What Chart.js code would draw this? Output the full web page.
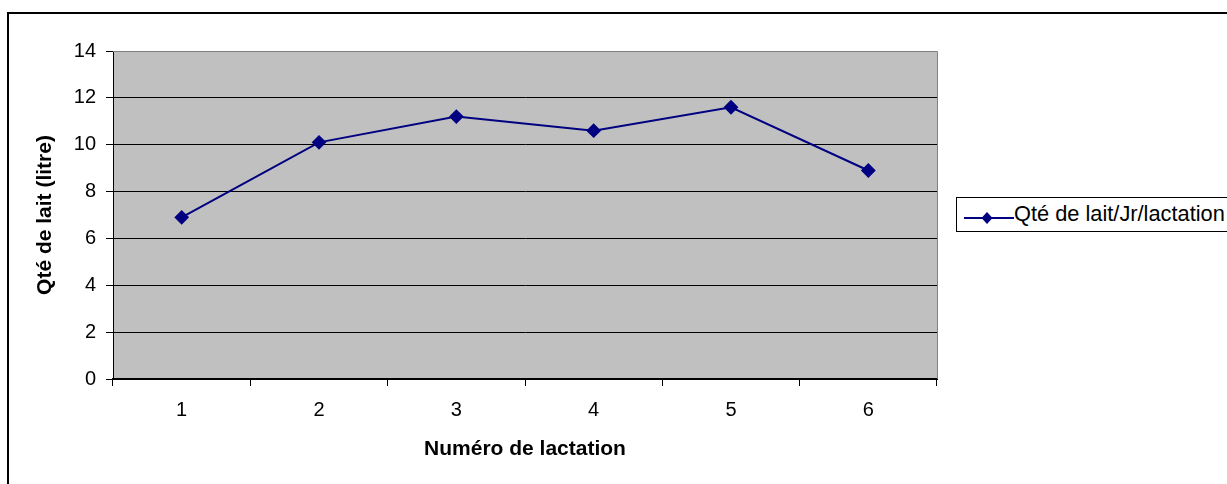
<!DOCTYPE html>
<html>
<head>
<meta charset="utf-8">
<script src="https://cdn.jsdelivr.net/npm/chart.js@4/dist/chart.umd.min.js"></script>
<style>
  html, body { margin: 0; padding: 0; background: #fff; }
  #wrap { position: relative; width: 1227px; height: 484px; overflow: hidden; }
  #c { position: absolute; left: 0; top: 0; }
  #legend {
    position: absolute; left: 956px; top: 197px; width: 300px; height: 35px;
    border: 1px solid #000; background: #fff; box-sizing: border-box;
    font-family: "Liberation Sans", Arial, sans-serif; font-size: 21.8px; color: #000;
    white-space: nowrap;
  }
  #legend svg { position: absolute; left: 7px; top: 12px; }
  #legend span { position: absolute; left: 57px; top: 3px; line-height: 26px; }
</style>
</head>
<body>
<div id="wrap">
  <canvas id="c" width="1227" height="484"></canvas>
  <div id="legend">
    <svg width="50" height="16" viewBox="0 0 50 16">
      <line x1="0" y1="8" x2="50" y2="8" stroke="#000080" stroke-width="2"/>
      <polygon points="23,2 28.5,8 23,14 17.5,8" fill="#000080"/>
    </svg>
    <span id="legendText"></span>
  </div>
</div>
<script>
const categories = ["1", "2", "3", "4", "5", "6"];
const milkValues = [6.9, 10.1, 11.2, 10.6, 11.6, 8.9];
const seriesName = "Qté de lait/Jr/lactation";
const xTitle = "Numéro de lactation";
const yTitle = "Qté de lait (litre)";
const yMin = 0, yMax = 14, yStep = 2;

document.getElementById('legendText').textContent = seriesName;

const FONT = '"Liberation Sans", Arial, sans-serif';

const plotBg = {
  id: 'plotBg',
  beforeDraw(chart) {
    const {ctx, chartArea: a} = chart;
    ctx.save();
    ctx.fillStyle = '#C0C0C0';
    ctx.fillRect(a.left, a.top, a.right - a.left, a.bottom - a.top);
    ctx.restore();
  },
  afterDraw(chart) {
    const {ctx, chartArea: a} = chart;
    ctx.save();
    ctx.strokeStyle = '#808080';
    ctx.lineWidth = 1;
    ctx.beginPath();
    ctx.moveTo(a.left, a.top + 0.5);
    ctx.lineTo(a.right + 0.5, a.top + 0.5);
    ctx.lineTo(a.right + 0.5, a.bottom);
    ctx.stroke();
    ctx.strokeStyle = '#000';
    ctx.lineWidth = 2;
    ctx.beginPath();
    ctx.moveTo(8, 1300);
    ctx.lineTo(8, 13);
    ctx.lineTo(1400, 13);
    ctx.stroke();
    ctx.restore();
  }
};

new Chart(document.getElementById('c'), {
  type: 'line',
  data: {
    labels: categories,
    datasets: [{
      label: seriesName,
      data: milkValues,
      borderColor: '#000080',
      backgroundColor: '#000080',
      borderWidth: 2,
      pointStyle: 'rectRot',
      pointRadius: 6,
      pointHoverRadius: 6,
      pointBackgroundColor: '#000080',
      pointBorderColor: '#000080',
      tension: 0,
      fill: false
    }]
  },
  options: {
    responsive: false,
    animation: false,
    devicePixelRatio: 1,
    layout: { padding: { left: 0, top: 51, right: 290, bottom: 0 } },
    plugins: {
      legend: { display: false },
      tooltip: { enabled: false }
    },
    scales: {
      x: {
        type: 'category',
        offset: true,
        grid: {
          offset: true,
          drawOnChartArea: false,
          drawTicks: true,
          tickLength: 7,
          color: '#000',
          lineWidth: 1
        },
        border: { display: true, color: '#000', width: 2 },
        ticks: {
          color: '#000',
          padding: 12,
          font: { family: FONT, size: 20 },
          maxRotation: 0
        },
        title: {
          display: true,
          text: xTitle,
          color: '#000',
          font: { family: FONT, size: 21, weight: 'bold' },
          padding: { top: 0, bottom: 22 }
        },
        afterFit(scale) { scale.height = 105; }
      },
      y: {
        min: yMin,
        max: yMax,
        grid: {
          drawOnChartArea: true,
          drawTicks: true,
          tickLength: 7,
          color: '#000',
          lineWidth: 1
        },
        border: { display: true, color: '#000', width: 1 },
        ticks: {
          stepSize: yStep,
          color: '#000',
          padding: 10,
          font: { family: FONT, size: 20 }
        },
        title: {
          display: true,
          text: yTitle,
          color: '#000',
          font: { family: FONT, size: 21, weight: 'bold' },
          padding: { top: 33, bottom: 0 }
        },
        afterFit(scale) { scale.width = 113; }
      }
    }
  },
  plugins: [plotBg]
});
</script>
</body>
</html>
